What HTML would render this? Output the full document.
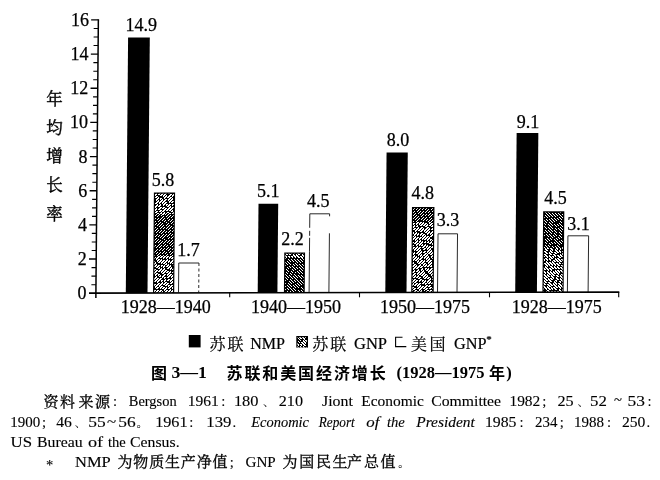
<!DOCTYPE html>
<html lang="zh"><head><meta charset="utf-8"><title>图 3—1 苏联和美国经济增长</title>
<style>html,body{margin:0;padding:0;background:#fff;overflow:hidden;}svg{display:block;will-change:transform;}text{fill:#000;}.n,.t{stroke:#000;stroke-width:.25px;}.c{stroke:#000;stroke-width:.22px;}.s,.i,.p{stroke:#000;stroke-width:.12px;}.k{font-family:"Liberation Serif", "Noto Serif CJK SC", serif;font-size:15px;stroke:#000;stroke-width:.32px;}.n{font-family:"Liberation Serif", "Noto Serif CJK SC", serif;font-size:18px;}.t{font-family:"Liberation Serif", "Noto Serif CJK SC", serif;font-size:18px;}.c{font-family:"Liberation Serif", "Noto Serif CJK SC", serif;font-size:16px;}.s{font-family:"Liberation Serif", "Noto Serif CJK SC", serif;font-size:14.6px;}.i{font-family:"Liberation Serif", "Noto Serif CJK SC", serif;font-size:14.6px;font-style:italic;}.p{font-family:"Liberation Serif", "Noto Serif CJK SC", serif;font-size:10.5px;}.cap{font-family:"Liberation Sans", "Noto Sans CJK SC", sans-serif;font-size:16px;font-weight:bold;}.capn{font-family:"Liberation Serif", "Noto Serif CJK SC", serif;font-size:16.5px;font-weight:bold;}</style></head><body>
<svg width="660" height="480" viewBox="0 0 660 480">
<rect width="660" height="480" fill="#fff"/>
<g transform="matrix(1 0 -0.0090 1 2.637 0)">
<g stroke="#000" fill="none">
<line x1="95.9" y1="19.3" x2="95.9" y2="298" stroke-width="1.5"/>
<line x1="91.3" y1="284.7" x2="95.9" y2="284.7" stroke-width="1.15"/>
<line x1="91.3" y1="276.1" x2="95.9" y2="276.1" stroke-width="1.15"/>
<line x1="91.3" y1="267.6" x2="95.9" y2="267.6" stroke-width="1.15"/>
<line x1="88.7" y1="259.0" x2="95.9" y2="259.0" stroke-width="1.35"/>
<line x1="91.3" y1="250.5" x2="95.9" y2="250.5" stroke-width="1.15"/>
<line x1="91.3" y1="242.0" x2="95.9" y2="242.0" stroke-width="1.15"/>
<line x1="91.3" y1="233.4" x2="95.9" y2="233.4" stroke-width="1.15"/>
<line x1="88.7" y1="224.9" x2="95.9" y2="224.9" stroke-width="1.35"/>
<line x1="91.3" y1="216.3" x2="95.9" y2="216.3" stroke-width="1.15"/>
<line x1="91.3" y1="207.8" x2="95.9" y2="207.8" stroke-width="1.15"/>
<line x1="91.3" y1="199.3" x2="95.9" y2="199.3" stroke-width="1.15"/>
<line x1="88.7" y1="190.7" x2="95.9" y2="190.7" stroke-width="1.35"/>
<line x1="91.3" y1="182.2" x2="95.9" y2="182.2" stroke-width="1.15"/>
<line x1="91.3" y1="173.6" x2="95.9" y2="173.6" stroke-width="1.15"/>
<line x1="91.3" y1="165.1" x2="95.9" y2="165.1" stroke-width="1.15"/>
<line x1="88.7" y1="156.6" x2="95.9" y2="156.6" stroke-width="1.35"/>
<line x1="91.3" y1="148.0" x2="95.9" y2="148.0" stroke-width="1.15"/>
<line x1="91.3" y1="139.5" x2="95.9" y2="139.5" stroke-width="1.15"/>
<line x1="91.3" y1="130.9" x2="95.9" y2="130.9" stroke-width="1.15"/>
<line x1="88.7" y1="122.4" x2="95.9" y2="122.4" stroke-width="1.35"/>
<line x1="91.3" y1="113.9" x2="95.9" y2="113.9" stroke-width="1.15"/>
<line x1="91.3" y1="105.3" x2="95.9" y2="105.3" stroke-width="1.15"/>
<line x1="91.3" y1="96.8" x2="95.9" y2="96.8" stroke-width="1.15"/>
<line x1="88.7" y1="88.2" x2="95.9" y2="88.2" stroke-width="1.35"/>
<line x1="91.3" y1="79.7" x2="95.9" y2="79.7" stroke-width="1.15"/>
<line x1="91.3" y1="71.2" x2="95.9" y2="71.2" stroke-width="1.15"/>
<line x1="91.3" y1="62.6" x2="95.9" y2="62.6" stroke-width="1.15"/>
<line x1="88.7" y1="54.1" x2="95.9" y2="54.1" stroke-width="1.35"/>
<line x1="91.3" y1="45.5" x2="95.9" y2="45.5" stroke-width="1.15"/>
<line x1="91.3" y1="37.0" x2="95.9" y2="37.0" stroke-width="1.15"/>
<line x1="91.3" y1="28.5" x2="95.9" y2="28.5" stroke-width="1.15"/>
<line x1="88.7" y1="19.9" x2="95.9" y2="19.9" stroke-width="1.35"/>
</g>
<rect x="125.8" y="37.5" width="21.7" height="255.5" fill="#000"/>
<clipPath id="cp1"><rect x="154.2" y="193.7" width="18.8" height="99.3"/></clipPath><rect x="153.0" y="192.5" width="21.2" height="100.5" fill="#000"/><g clip-path="url(#cp1)" stroke="#fff" stroke-width="1.15" fill="none" shape-rendering="crispEdges"><path d="M49.5,294.0 l102.5,-102.5" stroke-dasharray="3.5 1.2 4.9 1.1 4.4 1.4 2.3 1.6 2.2 1.5 2.3 1.1 3.9 2.0 2.6 1.3 4.8 2.1 4.6 1.5 6.4 1.1 5.9 1.3 2.6 1.1 3.4 2.0 2.8 1.7 4.9 1.4 4.5 1.1 2.3 1.2 5.1 1.5 3.4 1.7 4.0 1.4 5.6 1.8 3.1 1.7 4.4 2.1 5.3 1.3 6.4 1.1 3.9 1.9 2.7 1.6 2.2 1.8"/><path d="M52.5,294.0 l102.5,-102.5" stroke-dasharray="5.4 1.7 5.9 1.4 5.1 1.7 4.6 1.5 5.8 2.1 4.1 1.8 2.3 1.8 4.9 2.2 5.7 1.3 3.7 1.8 2.1 1.6 2.8 1.1 2.3 1.9 2.6 1.3 3.8 2.0 2.4 1.5 4.5 2.1 5.7 2.0 3.3 1.5 3.6 2.1 6.3 1.2 2.8 1.3 3.1 1.6 4.7 1.3 2.0 1.5 3.7 1.7 6.3 1.8 4.3 1.7"/><path d="M55.5,294.0 l102.5,-102.5" stroke-dasharray="5.0 1.1 6.0 1.9 5.9 2.0 3.8 1.5 2.5 1.8 2.3 1.1 2.9 1.2 3.5 1.1 2.0 1.2 2.5 1.4 2.1 2.0 4.8 1.2 3.1 1.4 3.6 1.1 5.8 2.2 4.1 1.6 2.4 1.1 3.5 1.3 5.7 1.2 2.1 2.1 4.4 1.2 4.4 1.0 4.4 2.2 5.9 1.8 3.2 1.4 2.8 1.9 4.4 1.9 3.5 1.3 5.7 2.2"/><path d="M58.5,294.0 l102.5,-102.5" stroke-dasharray="5.8 2.0 5.7 1.9 3.0 1.6 3.6 1.0 2.1 1.3 3.2 1.8 6.3 1.5 6.2 2.2 6.3 1.4 3.0 1.3 2.9 1.2 4.8 2.1 5.8 1.6 4.9 2.0 2.4 1.8 6.1 1.9 5.4 1.6 2.8 1.9 3.5 2.0 6.4 1.5 3.8 2.1 5.3 1.2 2.6 1.2 6.1 2.0 2.7 2.0 6.4 1.8"/><path d="M61.5,294.0 l102.5,-102.5" stroke-dasharray="3.6 1.7 2.6 1.0 6.4 1.8 4.4 2.1 4.0 2.0 5.7 1.3 3.1 1.4 3.1 1.7 3.2 1.5 2.6 2.1 3.6 1.5 4.6 2.1 3.9 2.1 4.3 1.6 4.4 1.0 4.0 1.2 2.0 2.0 2.8 1.6 5.3 1.7 3.5 1.6 4.5 1.9 2.5 1.7 3.1 1.3 5.5 1.6 4.5 1.9 6.1 1.5 4.8 1.6 4.3 1.8"/><path d="M64.5,294.0 l102.5,-102.5" stroke-dasharray="4.0 1.6 4.2 2.1 5.1 2.1 6.2 1.3 4.5 2.1 5.8 1.2 2.5 1.5 2.3 1.3 2.3 1.8 5.5 2.1 2.7 1.9 5.0 1.2 6.0 2.2 3.0 2.1 3.8 1.6 6.5 2.0 2.7 1.5 4.3 1.4 2.9 1.4 5.2 1.0 4.5 1.5 2.1 1.4 4.8 1.6 2.3 2.2 5.5 2.2 2.5 1.3 2.2 1.9 3.2 1.2"/><path d="M67.5,294.0 l102.5,-102.5" stroke-dasharray="3.9 2.1 5.7 1.3 2.7 2.1 4.6 1.8 2.4 1.1 5.1 1.5 2.3 2.1 4.9 2.0 2.4 2.0 2.3 2.0 4.0 1.4 4.5 2.1 3.2 1.2 4.4 1.3 2.5 1.2 2.2 1.2 3.4 1.4 5.4 1.3 4.3 1.2 3.6 1.0 3.1 1.0 5.3 1.7 2.9 1.6 6.2 1.1 5.7 1.5 4.2 2.0 3.8 1.6 5.1 2.2 3.5 2.0"/><path d="M70.5,294.0 l102.5,-102.5" stroke-dasharray="5.2 1.8 3.8 1.4 2.2 1.2 2.3 1.9 3.2 1.2 2.4 2.0 5.9 1.8 3.3 1.3 3.3 1.6 2.7 1.5 3.2 2.2 6.4 1.7 3.1 2.2 3.4 1.4 2.0 1.5 4.1 1.6 2.9 1.6 2.0 1.3 2.4 1.5 2.2 1.0 3.4 1.3 4.6 1.6 5.4 1.8 5.2 2.1 3.8 1.4 6.4 1.2 5.3 1.8 2.2 2.0 6.0 1.8"/><path d="M73.5,294.0 l102.5,-102.5" stroke-dasharray="5.3 2.0 2.6 1.6 4.3 2.0 5.6 2.0 4.6 2.1 5.1 1.8 3.0 1.0 2.6 1.4 2.5 2.0 4.5 1.8 4.8 1.8 4.2 1.0 5.6 1.9 4.3 1.6 5.0 1.1 5.3 1.3 2.3 1.3 5.3 1.2 5.3 2.2 4.2 1.5 4.2 1.8 5.5 1.7 4.9 1.1 2.7 1.3 5.3 1.4 4.6 1.0"/><path d="M76.5,294.0 l102.5,-102.5" stroke-dasharray="2.3 1.3 5.0 1.8 5.0 1.3 4.3 1.6 4.1 1.1 6.0 1.2 6.4 2.1 2.1 1.6 5.7 2.2 4.0 1.3 2.9 2.1 2.9 1.7 2.6 1.6 6.3 1.2 5.7 1.6 6.0 1.8 3.0 2.1 4.2 1.0 2.0 1.6 4.0 1.4 2.6 1.4 3.4 2.0 2.0 1.9 5.8 1.1 6.2 1.9 6.1 1.3 3.7 1.5"/><path d="M79.5,294.0 l102.5,-102.5" stroke-dasharray="6.5 1.7 3.6 1.5 3.2 1.1 2.5 2.0 3.3 2.1 3.1 1.3 4.3 1.2 3.7 2.1 6.0 2.0 4.8 2.1 6.2 1.7 5.2 1.1 5.3 1.5 5.4 1.8 3.3 1.1 6.2 1.2 4.1 1.4 3.3 1.9 6.4 1.3 5.0 1.4 4.5 1.5 2.8 1.2 2.9 2.1 4.2 1.3 6.1 2.2 4.0 1.2"/><path d="M82.5,294.0 l102.5,-102.5" stroke-dasharray="2.9 1.1 3.5 1.1 3.1 1.3 4.6 2.1 5.4 1.5 3.9 1.6 3.7 1.4 2.3 1.3 6.4 1.2 4.3 1.8 5.9 1.3 3.2 1.3 3.8 1.5 6.3 2.0 5.9 1.0 2.1 1.9 6.0 1.6 4.6 1.0 3.8 2.1 5.7 2.0 6.4 1.3 2.5 1.2 4.4 1.8 6.2 1.9 4.9 1.9 4.1 1.7"/><path d="M85.5,294.0 l102.5,-102.5" stroke-dasharray="2.2 1.9 3.0 2.1 4.9 1.4 2.6 1.3 4.9 1.8 2.5 1.1 4.4 1.7 3.7 1.3 4.7 1.0 3.4 1.6 6.3 1.8 6.0 1.6 3.1 1.3 6.3 1.8 3.4 1.0 4.2 1.8 3.9 1.3 5.0 2.1 3.0 1.0 3.5 1.5 5.1 1.2 5.6 1.9 4.3 1.2 6.4 1.4 5.7 1.3 3.0 1.9 3.3 2.1"/><path d="M88.5,294.0 l102.5,-102.5" stroke-dasharray="4.2 1.2 3.0 1.5 5.0 2.1 2.7 1.5 3.0 2.2 2.6 1.1 2.3 1.5 6.0 2.1 5.3 2.2 6.2 1.4 2.8 2.1 5.4 1.0 5.0 1.5 3.7 1.4 2.8 1.0 3.3 1.4 6.3 1.1 6.3 1.2 3.6 2.0 5.7 1.5 2.2 1.6 3.7 2.1 2.9 1.4 6.0 1.0 3.8 2.0 5.5 1.0 2.2 1.1 6.1 1.3"/><path d="M91.5,294.0 l102.5,-102.5" stroke-dasharray="5.4 2.1 3.5 1.3 6.3 1.7 3.2 1.9 3.4 1.3 2.0 1.9 6.1 1.8 6.2 1.0 3.1 1.6 6.3 2.1 3.7 1.3 3.9 1.6 6.2 1.2 5.6 1.9 5.7 1.9 4.7 1.4 3.4 1.4 5.5 1.1 2.9 1.9 3.1 1.1 2.2 1.7 3.5 2.2 6.0 2.2 3.2 1.1 2.4 1.6 5.2 1.5"/><path d="M94.5,294.0 l102.5,-102.5" stroke-dasharray="3.1 1.5 4.8 1.8 5.4 2.0 5.0 1.1 5.8 1.4 4.6 1.4 5.3 1.2 3.1 1.3 2.7 2.1 4.6 1.4 3.8 2.2 4.3 1.3 5.6 1.8 6.5 1.1 4.1 2.0 5.8 2.1 2.2 1.4 2.5 1.2 6.4 1.7 6.2 1.4 5.9 1.5 3.2 1.9 6.3 1.1 4.7 1.7 3.0 1.4 2.6 1.2"/><path d="M97.5,294.0 l102.5,-102.5" stroke-dasharray="3.1 1.7 4.9 1.2 2.1 1.4 5.1 1.2 3.4 1.2 5.6 1.7 2.3 1.1 3.8 1.7 4.9 1.1 2.7 1.8 3.8 1.3 3.4 2.1 3.4 1.7 3.6 1.5 5.9 2.2 3.6 1.2 5.3 1.2 2.0 2.1 3.9 2.0 3.8 2.1 4.1 1.2 2.1 1.7 4.9 2.1 2.4 1.7 3.7 1.6 2.7 1.3 4.3 2.1 2.5 1.6 5.6 2.2"/><path d="M100.5,294.0 l102.5,-102.5" stroke-dasharray="2.9 1.2 6.2 2.2 4.2 1.1 6.2 1.5 6.1 1.7 5.7 1.2 5.5 1.3 3.8 2.0 5.7 1.2 3.0 1.5 4.3 1.5 2.6 1.3 5.3 2.1 2.2 1.7 5.4 1.0 5.8 1.1 4.7 1.7 4.8 1.4 3.9 1.7 3.9 1.8 4.0 1.5 2.1 1.7 4.2 1.3 5.4 1.9 4.1 1.2 4.1 1.1"/><path d="M103.5,294.0 l102.5,-102.5" stroke-dasharray="2.6 1.5 2.4 1.5 4.3 1.0 4.9 1.1 5.3 1.9 4.3 1.1 4.3 1.5 6.3 1.2 5.9 2.2 5.3 2.0 2.9 2.2 4.2 2.1 6.1 1.2 5.5 2.1 2.3 1.4 5.4 1.2 6.0 1.3 5.7 1.2 4.3 2.1 2.9 1.3 4.3 1.4 2.2 1.2 2.7 2.1 5.1 2.1 2.8 1.9 2.5 1.6 4.9 1.4"/><path d="M106.5,294.0 l102.5,-102.5" stroke-dasharray="5.9 1.7 4.6 2.1 2.5 2.2 4.8 1.5 5.6 1.3 6.5 1.7 3.6 1.9 4.0 1.2 5.3 1.1 5.7 1.3 4.9 2.2 4.6 1.8 3.4 1.0 2.2 1.2 4.8 1.5 4.3 2.1 2.6 1.3 4.9 1.0 2.0 1.4 2.5 1.4 3.0 1.7 4.7 1.2 4.8 1.6 2.6 2.1 3.1 1.2 2.4 1.8 5.9 1.9 3.8 1.3"/><path d="M109.5,294.0 l102.5,-102.5" stroke-dasharray="2.1 1.8 4.5 1.4 4.9 1.5 6.2 1.9 3.1 2.1 2.2 1.6 3.8 1.3 2.3 1.9 2.1 1.7 6.2 1.2 2.9 1.7 4.3 1.8 5.7 1.2 3.4 1.4 2.2 2.1 5.5 1.9 2.0 2.0 5.4 1.6 5.3 1.5 3.0 1.1 3.0 1.0 3.5 1.9 5.1 2.0 5.2 1.3 4.5 1.5 5.5 1.6 3.2 1.8 6.3 1.3"/><path d="M112.5,294.0 l102.5,-102.5" stroke-dasharray="6.0 1.0 3.2 1.3 5.3 2.1 5.4 1.4 6.0 1.4 3.1 2.1 4.8 1.8 5.0 2.2 4.1 2.0 5.1 2.0 4.0 1.9 4.6 1.4 3.0 1.7 2.4 2.1 2.7 1.0 2.5 2.1 3.6 1.2 2.1 1.0 5.1 1.8 5.1 1.9 2.3 1.7 3.6 2.0 5.7 2.1 2.3 2.0 6.1 2.1 2.5 1.2 2.5 1.0 5.8 2.0"/><path d="M115.5,294.0 l102.5,-102.5" stroke-dasharray="4.9 2.0 4.8 1.3 2.4 1.1 5.4 1.2 3.4 1.5 2.1 1.3 3.3 1.9 3.7 1.4 6.3 1.6 5.8 1.7 2.1 1.5 4.0 1.9 3.6 1.8 4.4 1.3 5.9 1.1 5.7 1.2 2.0 1.2 5.4 2.2 2.0 1.6 4.2 2.0 2.8 1.6 3.6 2.0 3.2 2.1 3.3 1.3 5.1 1.6 2.5 1.8 2.4 1.9 5.1 1.9"/><path d="M118.5,294.0 l102.5,-102.5" stroke-dasharray="4.8 1.4 3.8 1.5 6.0 1.1 6.0 1.0 2.9 1.3 6.1 1.6 3.7 2.1 3.1 1.6 4.4 1.9 5.4 1.8 3.6 1.4 2.7 2.0 5.0 1.9 2.8 1.5 5.5 1.7 2.6 1.6 6.0 1.3 2.9 1.4 5.2 2.0 2.7 1.2 3.1 1.4 4.3 1.2 3.5 1.2 6.4 1.9 2.5 2.2 2.5 1.5 6.4 2.0"/><path d="M121.5,294.0 l102.5,-102.5" stroke-dasharray="5.3 1.5 2.9 1.8 2.5 1.2 3.7 1.0 3.8 1.9 5.1 1.6 4.8 1.6 2.6 1.7 3.8 1.9 6.1 1.5 4.6 1.9 3.9 1.3 5.2 2.1 5.5 1.8 5.8 1.8 4.9 1.5 3.4 1.8 2.4 1.5 5.5 1.9 4.8 1.3 3.9 1.5 4.8 1.5 5.0 2.1 2.8 1.8 5.5 1.5 4.2 2.2"/><path d="M124.5,294.0 l102.5,-102.5" stroke-dasharray="2.2 1.7 2.7 1.9 6.2 1.6 2.5 1.7 4.4 1.9 4.3 1.8 5.7 1.6 3.8 2.1 2.9 1.8 3.8 1.9 2.6 2.2 3.6 1.1 3.2 1.5 2.1 1.5 3.9 1.8 3.6 1.3 3.0 1.9 6.2 1.6 3.0 2.0 3.8 1.3 2.6 1.9 5.6 1.8 4.1 1.7 3.0 2.2 3.6 1.8 5.7 2.0 4.1 1.4 4.5 1.2"/><path d="M127.5,294.0 l102.5,-102.5" stroke-dasharray="5.8 1.4 5.8 1.3 3.7 1.3 3.9 1.2 2.0 1.9 3.3 1.3 3.4 1.6 3.9 1.8 5.0 1.4 6.2 2.0 2.3 2.0 6.1 1.9 2.6 2.0 4.8 1.0 2.1 2.1 5.0 1.3 2.5 1.2 3.1 1.9 3.6 1.2 6.1 2.0 2.8 2.1 4.7 1.9 5.0 2.1 5.5 2.0 2.9 1.8 4.4 1.9 4.0 2.1"/><path d="M130.5,294.0 l102.5,-102.5" stroke-dasharray="4.5 1.3 3.1 1.2 4.2 1.1 4.1 1.2 4.2 1.6 4.4 2.0 2.0 2.0 4.1 1.7 5.0 2.0 3.7 1.5 6.3 1.1 4.9 1.8 2.1 1.7 5.1 2.1 3.5 2.2 4.3 1.6 6.0 1.0 5.2 1.8 3.5 2.0 3.6 1.6 4.4 1.9 2.9 1.5 3.9 1.7 5.7 1.4 5.7 1.5 4.3 1.3 4.3 2.2"/><path d="M133.5,294.0 l102.5,-102.5" stroke-dasharray="4.9 2.0 3.5 1.4 3.3 1.7 4.9 1.9 2.2 1.9 6.0 1.7 2.2 1.4 2.0 1.2 6.1 1.7 5.0 1.9 6.1 1.7 4.8 1.8 5.1 1.7 5.1 1.3 5.0 1.5 5.4 1.1 2.8 1.0 5.5 2.1 5.0 1.4 5.7 1.9 4.5 1.3 3.4 1.5 3.4 1.5 4.9 2.1 2.2 1.7 2.2 1.1 5.6 1.7"/><path d="M136.5,294.0 l102.5,-102.5" stroke-dasharray="6.1 1.5 2.1 1.5 4.7 2.1 6.4 1.6 3.9 1.1 4.9 1.3 2.7 1.0 2.0 1.8 2.5 2.2 2.4 2.0 2.6 1.0 5.2 1.3 5.3 1.2 2.2 1.9 5.2 2.0 5.3 1.1 4.8 1.9 4.1 2.1 3.1 2.2 5.2 1.0 2.1 1.8 5.7 1.1 3.4 1.9 2.7 2.0 4.2 1.1 3.7 1.7 4.0 1.8 2.7 2.0 3.6 1.8"/><path d="M139.5,294.0 l102.5,-102.5" stroke-dasharray="4.8 1.5 3.7 1.9 6.3 1.9 4.6 1.4 2.3 2.2 5.2 2.0 3.5 1.7 6.4 2.0 4.7 1.4 3.9 2.1 3.7 1.8 4.7 2.1 5.6 1.3 2.0 1.3 3.9 1.7 5.7 2.1 2.2 2.0 5.7 2.0 4.6 1.3 5.8 2.0 5.1 2.1 3.6 1.1 4.5 2.0 2.9 1.9 6.2 1.3"/><path d="M142.5,294.0 l102.5,-102.5" stroke-dasharray="4.7 1.8 4.1 1.2 3.1 1.9 5.6 1.6 2.4 2.0 5.5 1.3 4.6 2.1 6.0 1.6 4.1 1.7 2.9 1.2 2.8 1.8 3.6 1.7 3.8 1.6 2.7 1.1 6.5 1.4 2.5 1.8 5.5 1.2 4.7 1.4 4.3 1.0 2.2 2.2 5.9 1.6 4.6 1.3 5.5 1.5 6.3 1.9 5.7 2.2 3.1 1.0 2.9 1.2"/><path d="M145.5,294.0 l102.5,-102.5" stroke-dasharray="2.4 1.1 4.5 2.0 4.1 2.1 6.1 1.1 4.7 1.5 2.5 2.2 3.2 1.7 4.9 2.1 5.0 1.5 4.0 1.2 6.3 2.2 3.0 1.0 3.2 1.4 6.1 2.1 5.8 1.1 5.5 1.9 4.9 2.2 2.3 1.2 5.4 2.1 5.0 1.4 4.7 1.9 2.5 1.4 3.2 1.1 4.2 1.2 3.1 1.2 5.0 1.0 5.2 1.2"/><path d="M148.5,294.0 l102.5,-102.5" stroke-dasharray="2.2 2.1 3.0 2.1 5.9 2.1 2.6 1.5 2.4 2.1 5.8 1.8 4.0 1.4 5.7 1.6 4.8 1.2 3.0 1.1 5.2 1.7 2.7 2.0 3.2 1.5 2.7 1.3 5.8 1.4 2.8 1.6 3.4 2.1 2.5 2.2 2.3 2.1 5.0 1.3 4.1 1.3 3.2 1.2 3.6 2.2 6.5 2.1 2.4 1.3 6.0 1.1 5.3 1.4 6.4 1.0"/><path d="M151.5,294.0 l102.5,-102.5" stroke-dasharray="5.6 1.4 2.6 1.0 5.7 1.6 2.8 1.5 6.1 1.3 4.6 1.2 2.8 1.9 5.2 1.2 2.4 1.1 4.7 1.6 3.2 1.2 4.8 1.8 5.7 1.7 2.9 1.1 5.3 1.5 5.2 1.1 5.6 1.4 5.8 2.0 4.2 1.0 6.1 1.6 5.9 1.3 2.8 2.0 3.7 1.2 3.7 1.7 2.0 1.6 4.0 1.6 2.5 1.9"/><path d="M154.5,294.0 l102.5,-102.5" stroke-dasharray="5.7 2.0 3.4 1.9 3.7 1.9 2.3 2.0 6.3 1.6 4.3 1.6 4.4 1.0 6.4 1.3 2.8 1.1 3.1 2.0 2.1 1.1 5.1 1.2 2.1 1.7 4.6 1.6 5.2 1.1 5.9 1.9 2.2 1.1 4.2 1.6 3.3 1.1 3.8 1.2 4.7 2.0 2.7 1.7 5.4 1.2 5.7 2.1 3.7 1.5 5.8 1.6 3.8 2.1"/><path d="M157.5,294.0 l102.5,-102.5" stroke-dasharray="5.5 1.4 3.1 1.4 4.0 2.2 5.6 2.1 5.7 2.0 2.2 1.6 6.3 2.1 3.1 1.5 4.8 1.4 4.4 1.1 3.9 1.6 2.1 1.2 6.4 1.9 6.2 1.8 5.6 2.1 6.0 1.0 4.9 1.3 5.1 1.3 4.4 2.1 4.8 1.3 4.3 1.5 6.3 1.3 3.4 1.8 2.5 1.7 6.3 1.6"/><path d="M160.5,294.0 l102.5,-102.5" stroke-dasharray="3.2 1.6 4.4 1.2 2.6 1.2 3.3 1.5 3.3 1.3 2.4 1.7 5.8 1.7 4.6 1.8 2.9 1.9 4.1 1.7 4.8 1.6 3.4 1.3 3.0 1.6 3.7 1.7 2.1 1.4 5.9 1.3 4.5 1.6 3.3 2.2 3.3 1.9 2.7 1.1 5.9 1.5 2.3 1.5 4.0 1.9 2.5 1.3 6.3 1.9 2.7 1.4 3.6 1.8 4.8 2.0 5.7 1.6"/><path d="M163.5,294.0 l102.5,-102.5" stroke-dasharray="5.3 1.9 5.4 1.6 5.5 1.9 6.1 1.2 5.9 1.0 5.4 1.7 4.2 2.2 4.6 1.5 5.5 2.0 4.7 1.5 4.0 1.5 5.3 1.4 3.8 1.7 3.7 1.4 5.5 2.0 4.2 1.5 2.8 1.4 2.7 1.7 4.6 1.1 6.1 1.4 5.8 2.0 6.3 1.2 3.9 2.1 2.0 1.1 4.5 1.6"/><path d="M166.5,294.0 l102.5,-102.5" stroke-dasharray="6.1 1.9 4.4 2.2 4.3 1.6 5.1 1.5 3.6 1.7 3.6 2.1 5.0 1.6 2.4 1.4 3.8 1.7 4.6 2.1 6.3 1.6 4.0 1.7 6.5 1.4 4.4 2.0 2.8 1.4 6.4 2.0 4.3 1.1 6.0 1.8 5.7 2.2 6.0 1.5 2.7 1.3 4.3 1.6 2.8 1.2 4.8 1.7 3.6 2.2"/><path d="M169.5,294.0 l102.5,-102.5" stroke-dasharray="4.9 1.1 3.9 1.9 3.4 1.8 2.0 1.4 5.8 1.7 5.0 1.2 4.2 1.7 3.2 1.8 4.4 2.2 4.6 1.5 2.5 1.2 5.4 1.1 2.5 1.2 4.4 2.0 4.8 2.0 2.3 1.0 5.5 1.4 5.2 1.4 2.8 1.3 2.4 2.1 4.6 1.4 4.0 1.5 2.2 2.1 4.6 2.2 4.0 1.7 3.1 1.1 6.2 2.0 3.4 2.1"/><path d="M172.5,294.0 l102.5,-102.5" stroke-dasharray="5.7 1.4 4.7 2.2 4.2 2.1 3.1 1.5 5.2 1.3 3.4 2.1 4.2 2.0 3.1 1.2 3.6 1.2 6.4 1.3 4.5 1.1 4.4 1.5 3.8 1.1 2.6 2.0 3.6 1.3 2.9 1.3 3.1 1.0 5.0 1.4 2.7 1.8 2.4 1.3 5.8 1.2 4.0 2.0 5.6 1.2 3.6 1.9 3.7 2.2 2.9 2.1 4.3 1.3 4.0 1.2"/><path d="M175.5,294.0 l102.5,-102.5" stroke-dasharray="5.2 1.3 6.0 1.7 3.7 1.3 4.7 1.3 5.9 1.1 4.3 1.7 3.2 1.9 3.7 1.8 4.6 1.4 3.8 1.1 2.8 2.0 3.4 1.8 2.5 1.7 3.6 1.6 3.3 1.1 3.4 1.3 2.6 1.9 3.3 1.5 6.1 1.9 6.0 2.0 2.6 1.3 2.1 1.8 5.0 1.4 3.9 1.8 5.1 1.3 5.8 1.4 4.8 1.2 2.5 2.1"/></g>
<path d="M178.5,292.4 V263.0 H198.7" fill="none" stroke="#111" stroke-width="0.9"/>
<path d="M198.7,263.0 V292.4" fill="none" stroke="#111" stroke-width="0.9" stroke-dasharray="3 2.5"/>
<rect x="257.7" y="203.7" width="19.7" height="89.3" fill="#000"/>
<clipPath id="cp2"><rect x="285.1" y="253.7" width="18.4" height="39.3"/></clipPath><rect x="283.9" y="252.5" width="20.8" height="40.5" fill="#000"/><g clip-path="url(#cp2)" stroke="#fff" stroke-width="1.12" fill="none" shape-rendering="crispEdges"><path d="M280.9,294.0 l-42.5,-42.5" stroke-dasharray="5.3 1.9 2.2 1.0 2.7 1.2 3.4 1.5 2.2 1.4 4.9 1.2 5.8 1.7 5.2 1.3 4.0 1.8 3.6 1.0 5.8 1.9 3.3 1.1 5.8 1.7"/><path d="M283.9,294.0 l-42.5,-42.5" stroke-dasharray="2.2 1.3 2.5 1.9 2.9 2.1 5.4 1.1 5.1 1.5 5.4 2.0 3.3 1.1 6.3 1.5 6.2 1.8 5.3 2.0 4.8 1.5 2.2 1.8"/><path d="M286.9,294.0 l-42.5,-42.5" stroke-dasharray="3.9 1.6 6.2 1.2 5.4 1.1 5.2 2.0 3.2 1.7 6.4 1.8 4.4 1.3 2.3 1.4 3.9 1.2 3.4 1.2 5.2 1.8 3.1 1.3"/><path d="M289.9,294.0 l-42.5,-42.5" stroke-dasharray="4.3 1.5 6.2 1.4 3.3 2.1 2.6 1.7 3.5 2.0 4.5 1.9 2.8 1.8 4.7 1.6 5.4 2.0 2.5 1.3 3.6 1.2 2.3 1.3 2.9 1.8"/><path d="M292.9,294.0 l-42.5,-42.5" stroke-dasharray="4.0 1.1 3.5 1.6 3.6 1.2 2.3 1.0 6.5 1.9 2.4 1.9 6.4 1.7 2.5 1.6 4.0 1.2 4.4 1.0 6.1 1.8 4.8 2.1"/><path d="M295.9,294.0 l-42.5,-42.5" stroke-dasharray="4.9 1.3 3.1 1.2 2.1 1.9 5.8 1.4 2.8 1.8 5.8 2.1 2.8 1.9 5.7 1.9 3.5 1.2 5.7 1.4 3.7 1.7 3.7 2.0"/><path d="M298.9,294.0 l-42.5,-42.5" stroke-dasharray="3.1 1.0 4.6 1.8 5.7 1.8 6.1 2.1 4.2 1.6 2.7 1.4 4.6 1.1 5.1 1.2 4.0 2.2 2.4 1.0 4.0 1.2 5.3 1.0"/><path d="M301.9,294.0 l-42.5,-42.5" stroke-dasharray="5.8 2.0 5.5 1.5 3.3 1.8 4.3 1.5 3.5 1.5 5.0 2.0 6.1 1.2 3.3 1.5 4.5 1.4 2.9 1.1 3.5 1.6 6.4 2.1"/><path d="M304.9,294.0 l-42.5,-42.5" stroke-dasharray="5.9 2.2 6.3 1.7 5.7 1.1 5.0 1.7 3.3 1.7 6.3 1.6 4.9 1.4 3.5 2.1 2.1 1.2 5.1 1.5 2.4 1.8"/><path d="M307.9,294.0 l-42.5,-42.5" stroke-dasharray="3.7 1.7 3.9 1.6 4.5 1.5 2.5 1.2 6.0 1.7 2.5 2.0 3.1 1.1 4.4 1.3 4.2 1.7 3.0 1.7 2.5 1.6 4.6 1.1 3.8 1.1"/><path d="M310.9,294.0 l-42.5,-42.5" stroke-dasharray="4.0 2.0 4.5 1.9 5.4 1.1 6.5 1.9 2.5 2.0 3.8 1.2 6.3 1.7 5.5 1.2 5.5 1.1 3.1 1.4 2.1 1.7 3.0 1.4"/><path d="M313.9,294.0 l-42.5,-42.5" stroke-dasharray="5.2 1.5 6.0 1.7 5.9 1.7 6.1 2.0 2.8 1.9 3.5 1.9 5.1 2.0 2.6 1.4 5.3 2.1 5.2 1.1 4.7 1.1"/><path d="M316.9,294.0 l-42.5,-42.5" stroke-dasharray="4.5 2.0 2.5 2.1 5.0 1.3 2.9 1.5 5.8 1.7 2.5 1.0 2.5 2.0 2.8 1.7 3.3 1.8 3.7 1.2 5.9 1.6 5.1 2.0 6.3 1.0"/><path d="M319.9,294.0 l-42.5,-42.5" stroke-dasharray="3.5 1.2 4.3 2.0 5.6 1.0 2.8 2.0 5.1 1.5 4.1 1.2 5.8 1.5 5.9 1.7 2.3 1.4 3.0 2.1 4.7 1.1 2.8 1.4"/><path d="M322.9,294.0 l-42.5,-42.5" stroke-dasharray="4.1 1.7 3.7 1.4 2.0 1.7 3.5 1.0 4.1 2.2 2.2 1.2 5.0 1.3 3.2 1.6 3.2 1.7 4.4 2.1 6.5 1.0 4.5 1.9 5.9 1.9"/><path d="M325.9,294.0 l-42.5,-42.5" stroke-dasharray="4.8 1.8 3.6 1.3 5.6 2.0 6.2 1.8 3.4 1.9 5.3 1.6 4.9 1.4 4.5 1.5 2.3 1.4 3.5 2.2 4.2 1.4 3.1 1.3"/><path d="M328.9,294.0 l-42.5,-42.5" stroke-dasharray="3.6 1.2 2.0 2.0 4.0 1.5 4.6 1.4 2.8 1.1 3.4 1.4 5.3 1.7 6.2 1.4 6.1 1.7 2.4 1.2 4.6 2.2 3.6 1.9 3.9 2.0"/><path d="M331.9,294.0 l-42.5,-42.5" stroke-dasharray="2.3 1.6 6.0 1.3 3.2 1.0 2.7 1.3 5.2 1.3 3.8 1.2 4.7 2.0 4.9 1.2 5.3 2.2 4.7 1.1 5.6 2.1 3.5 1.2"/><path d="M334.9,294.0 l-42.5,-42.5" stroke-dasharray="2.8 1.6 5.9 1.8 6.2 1.3 3.5 1.9 4.9 1.5 5.1 1.4 2.3 1.5 2.2 1.8 3.5 1.6 4.7 1.3 4.1 1.0 6.2 1.7"/><path d="M337.9,294.0 l-42.5,-42.5" stroke-dasharray="6.4 1.1 4.8 1.9 3.5 1.1 2.7 1.2 5.5 1.1 5.7 1.5 4.4 1.7 4.5 1.8 4.7 1.4 5.3 1.3 5.2 1.9"/><path d="M340.9,294.0 l-42.5,-42.5" stroke-dasharray="5.5 1.4 5.5 2.2 4.0 1.3 4.4 2.1 2.6 1.0 4.1 1.8 5.5 1.4 6.5 1.3 5.4 1.1 2.1 1.2 2.3 1.6 4.5 1.2"/><path d="M343.9,294.0 l-42.5,-42.5" stroke-dasharray="6.2 1.4 2.7 1.2 5.3 2.1 2.7 1.0 5.5 1.3 6.4 1.6 4.9 1.4 5.6 1.6 3.5 2.1 2.5 1.9 2.3 1.8 3.8 2.0"/><path d="M346.9,294.0 l-42.5,-42.5" stroke-dasharray="2.3 1.7 3.8 2.1 6.3 1.8 3.0 1.3 3.2 1.5 3.0 1.2 5.4 1.8 3.3 2.2 3.0 1.7 2.7 2.0 5.9 1.3 5.4 2.0"/></g>
<path d="M309.1,292.4 V251.8 M328.9,233.3 V292.4" fill="none" stroke="#111" stroke-width="0.9"/>
<path d="M309.1,251.8 V213.8 H328.9 V216.3" fill="none" stroke="#111" stroke-width="0.9" stroke-dasharray="14 2 5 3 40 0"/>
<rect x="385.3" y="152.5" width="21.2" height="140.5" fill="#000"/>
<clipPath id="cp3"><rect x="412.4" y="208.2" width="20.1" height="84.8"/></clipPath><rect x="411.2" y="207.0" width="22.5" height="86.0" fill="#000"/><g clip-path="url(#cp3)" stroke="#fff" stroke-width="1.15" fill="none" shape-rendering="crispEdges"><path d="M322.2,294.0 l88.0,-88.0" stroke-dasharray="3.3 1.4 4.2 2.1 2.7 1.8 4.7 1.5 4.6 2.1 2.9 2.1 3.6 1.9 5.9 1.2 5.9 2.2 3.3 1.0 2.5 2.2 2.0 2.1 2.7 1.9 2.4 1.2 5.1 1.1 3.5 2.1 5.2 2.1 6.4 1.0 3.1 2.0 5.1 1.0 4.3 1.3 3.9 1.1 2.1 2.2 3.4 2.1"/><path d="M325.2,294.0 l88.0,-88.0" stroke-dasharray="2.5 1.6 2.6 1.5 2.8 1.8 2.7 1.9 4.3 1.1 3.6 1.6 6.1 1.4 3.0 2.2 6.0 1.9 3.2 1.2 3.2 1.1 2.2 1.6 3.8 1.7 3.6 1.0 5.1 1.8 4.4 1.7 5.1 2.2 5.9 1.9 3.8 1.4 3.9 2.2 3.7 1.5 3.8 1.2 6.5 1.0 4.7 2.1"/><path d="M328.2,294.0 l88.0,-88.0" stroke-dasharray="3.1 1.7 3.7 1.3 2.9 1.1 5.8 1.9 6.1 1.1 5.1 1.4 4.9 1.7 3.4 2.2 2.0 1.9 5.8 1.6 4.7 2.2 3.1 1.8 5.3 1.5 5.2 1.5 4.4 1.7 5.0 1.4 4.8 1.7 3.0 1.7 3.2 2.1 4.1 1.9 4.3 1.6 3.0 1.2 6.2 1.6"/><path d="M331.2,294.0 l88.0,-88.0" stroke-dasharray="4.4 1.6 5.7 1.3 2.8 2.0 4.1 1.8 5.7 2.1 5.9 1.1 3.7 2.0 5.7 1.1 2.7 1.3 2.5 1.4 5.6 1.6 4.0 1.1 3.8 2.2 5.1 1.5 4.2 2.0 5.4 1.2 5.1 1.4 4.3 1.3 3.7 1.4 3.7 1.0 2.9 1.7 2.3 1.2 5.2 1.3 3.5 1.3"/><path d="M334.2,294.0 l88.0,-88.0" stroke-dasharray="5.8 1.1 4.9 2.0 2.9 1.5 5.6 1.7 3.7 1.1 4.0 1.4 5.2 1.4 3.8 1.8 5.6 1.4 3.7 1.7 6.2 1.2 6.4 1.9 3.7 1.8 3.5 1.1 5.4 1.5 4.4 1.6 6.1 1.9 2.1 1.7 4.1 1.6 5.8 1.5 4.1 2.1 4.0 1.6"/><path d="M337.2,294.0 l88.0,-88.0" stroke-dasharray="4.3 2.0 5.0 1.9 3.8 1.0 5.1 1.7 5.5 1.9 2.5 1.3 2.3 2.0 2.5 1.1 5.4 1.7 2.2 1.8 5.2 1.6 2.2 1.8 3.9 1.7 6.5 2.0 5.9 1.2 3.5 1.6 2.0 2.2 3.2 1.3 3.4 1.3 5.9 1.7 4.3 1.5 2.2 1.4 5.9 2.0 5.9 1.3"/><path d="M340.2,294.0 l88.0,-88.0" stroke-dasharray="2.9 1.1 4.4 1.4 4.1 1.6 4.6 1.4 5.6 1.2 6.1 1.7 2.2 1.4 4.4 1.5 4.5 1.4 3.2 2.0 3.3 1.9 5.6 1.7 4.0 2.1 4.0 2.1 2.3 1.5 4.9 1.1 5.9 1.1 4.7 1.2 6.2 1.7 5.6 1.6 5.0 1.8 3.3 1.3 5.8 1.2"/><path d="M343.2,294.0 l88.0,-88.0" stroke-dasharray="6.1 1.2 2.5 1.1 5.5 2.1 3.9 1.8 3.2 2.1 5.1 1.2 2.3 1.8 2.2 2.0 3.3 1.3 4.6 1.4 4.5 1.2 6.1 1.4 5.8 1.2 5.6 2.2 3.8 1.0 3.7 1.8 3.0 1.7 2.4 1.6 5.3 1.5 5.1 1.1 5.7 1.1 6.2 2.2 6.2 1.6"/><path d="M346.2,294.0 l88.0,-88.0" stroke-dasharray="3.3 1.4 5.4 1.6 6.2 1.1 4.2 2.0 4.7 1.6 2.4 1.2 3.2 2.1 5.8 1.3 6.2 1.0 4.7 2.2 3.5 2.1 5.0 1.1 3.5 1.5 3.1 1.9 2.8 1.9 3.3 1.1 4.5 1.1 4.5 1.9 4.7 1.6 2.2 1.6 2.4 1.8 2.6 1.7 3.6 1.4 5.0 1.2"/><path d="M349.2,294.0 l88.0,-88.0" stroke-dasharray="2.8 2.1 3.5 2.0 5.9 1.6 2.7 1.1 6.0 1.1 4.2 1.6 2.5 1.6 2.7 1.6 4.3 1.4 2.9 1.5 2.9 1.2 3.1 2.0 4.3 2.1 2.1 2.1 4.2 1.9 4.6 1.8 3.0 1.9 2.7 1.3 2.1 1.5 4.3 1.4 6.0 1.1 4.6 1.3 4.7 1.9 5.2 1.1 3.1 1.7"/><path d="M352.2,294.0 l88.0,-88.0" stroke-dasharray="6.4 1.0 4.8 1.8 5.7 1.4 5.6 1.6 6.1 1.0 6.2 1.5 3.8 1.1 3.1 1.9 5.1 1.2 3.5 1.2 2.9 1.3 3.5 2.2 6.5 1.9 4.2 1.6 5.5 2.1 5.4 1.8 2.9 1.8 5.8 1.9 2.4 1.9 3.6 1.2 6.3 1.8 5.4 1.2"/><path d="M355.2,294.0 l88.0,-88.0" stroke-dasharray="5.7 2.1 6.1 1.9 5.7 2.0 4.7 1.5 5.7 1.9 5.9 1.4 6.3 1.6 6.3 1.1 6.4 1.9 3.1 2.0 3.0 1.2 4.1 1.3 4.2 2.1 5.1 1.9 3.8 1.9 5.6 1.8 6.2 2.0 3.8 1.1 4.9 2.0 3.5 1.7"/><path d="M358.2,294.0 l88.0,-88.0" stroke-dasharray="5.8 2.0 2.0 1.6 2.1 1.1 5.7 1.5 4.7 1.5 3.5 1.3 3.6 2.0 4.8 1.4 2.4 1.3 5.2 1.5 5.0 2.0 2.5 1.8 2.2 2.0 2.8 1.3 6.3 1.4 3.0 2.1 4.7 2.1 3.8 1.6 6.3 1.6 6.4 1.2 5.7 1.2 4.4 1.0 2.8 2.1 4.0 2.0"/><path d="M361.2,294.0 l88.0,-88.0" stroke-dasharray="3.1 1.4 2.5 1.7 5.9 1.6 3.7 2.1 6.0 1.8 2.3 1.7 4.0 2.1 3.6 1.8 4.8 1.5 4.3 1.8 6.1 1.6 3.6 2.2 2.3 2.0 5.1 1.7 4.0 1.9 6.0 1.9 5.4 1.0 3.5 1.2 6.3 2.1 2.7 1.7 4.6 1.1 3.8 1.9 4.9 1.3"/><path d="M364.2,294.0 l88.0,-88.0" stroke-dasharray="5.4 1.3 4.4 1.5 6.4 1.8 5.6 1.8 3.7 2.2 5.2 1.8 3.2 1.2 4.6 2.0 5.6 1.4 2.6 1.6 5.9 1.2 5.3 1.2 3.4 1.1 3.3 1.5 6.4 2.2 2.8 1.4 6.2 1.2 3.4 1.5 2.5 1.3 3.8 1.5 6.3 1.3 2.9 2.1 4.0 2.0"/><path d="M367.2,294.0 l88.0,-88.0" stroke-dasharray="4.9 1.9 3.4 1.2 5.4 1.6 4.5 1.8 5.4 1.3 3.6 2.1 4.4 1.3 4.8 1.3 5.5 1.0 5.7 1.7 3.6 2.1 3.2 1.3 2.3 1.7 5.4 1.8 3.9 2.0 2.5 1.4 4.9 2.2 4.9 1.8 5.5 1.5 6.2 1.9 3.5 1.5 5.6 1.4"/><path d="M370.2,294.0 l88.0,-88.0" stroke-dasharray="2.8 2.0 4.4 1.6 5.0 2.1 2.6 1.4 2.3 1.5 4.3 2.0 5.0 1.7 3.8 1.7 3.2 2.0 5.5 2.0 2.7 1.8 5.4 1.6 6.0 2.1 5.3 2.0 4.9 2.1 2.6 1.8 5.2 1.7 3.2 1.1 4.7 2.0 3.2 1.3 3.0 1.1 5.0 2.2 5.6 1.4"/><path d="M373.2,294.0 l88.0,-88.0" stroke-dasharray="5.1 1.1 5.8 1.4 2.0 1.8 2.6 1.3 2.3 1.5 4.5 2.0 2.2 2.0 2.5 1.3 4.8 1.4 3.5 1.7 3.0 2.0 2.9 2.0 5.6 1.6 2.1 1.9 2.1 1.6 3.9 1.1 4.8 1.9 4.6 1.5 4.3 1.7 3.0 2.0 6.5 2.0 6.3 1.4 6.4 1.1 4.2 1.2"/><path d="M376.2,294.0 l88.0,-88.0" stroke-dasharray="4.0 1.8 5.2 1.5 3.5 1.2 3.8 1.3 2.9 1.9 4.3 1.5 2.9 1.8 2.9 1.3 4.5 1.8 6.4 1.9 6.3 2.1 5.3 1.9 2.3 1.2 2.1 2.0 5.2 1.8 3.2 1.4 2.7 1.8 6.5 1.4 2.2 1.2 3.6 2.1 5.6 1.5 2.5 1.1 2.7 1.9 4.1 2.2"/><path d="M379.2,294.0 l88.0,-88.0" stroke-dasharray="6.1 2.0 4.1 2.0 2.6 1.1 4.5 1.6 2.9 1.3 2.1 2.1 5.2 2.1 6.4 1.5 5.3 1.5 5.7 2.0 2.6 1.0 3.0 1.7 3.7 1.0 5.7 1.9 4.1 1.1 6.0 1.6 2.3 1.4 4.8 2.1 4.2 1.8 2.9 1.3 6.1 1.5 2.5 1.7 2.6 1.2 4.1 1.7"/><path d="M382.2,294.0 l88.0,-88.0" stroke-dasharray="4.9 1.8 4.0 1.1 5.3 1.1 4.1 1.5 5.0 1.9 3.1 1.8 5.1 1.6 2.6 2.1 4.7 1.1 3.1 2.2 3.0 1.5 5.5 2.0 4.9 1.9 2.2 1.1 6.4 2.0 2.2 1.1 3.1 2.1 3.0 1.8 6.2 1.8 6.1 1.3 2.7 1.0 5.4 1.1 6.4 1.9"/><path d="M385.2,294.0 l88.0,-88.0" stroke-dasharray="2.8 2.0 2.7 1.6 2.5 1.9 6.0 2.1 2.0 2.0 4.5 2.0 4.3 1.7 4.7 2.0 2.3 1.1 4.5 1.3 3.8 1.0 5.4 1.0 5.7 2.0 4.1 1.1 4.9 1.2 3.9 1.1 6.4 1.7 3.6 1.1 5.3 2.0 5.8 1.1 3.7 1.4 5.4 1.2 4.7 2.2"/><path d="M388.2,294.0 l88.0,-88.0" stroke-dasharray="5.5 1.0 2.3 1.1 5.1 1.7 4.3 1.5 3.8 1.7 4.9 2.1 5.3 2.0 6.1 2.0 5.2 1.0 5.1 2.0 3.9 2.1 2.8 2.1 4.0 1.8 3.1 1.4 3.6 1.4 2.4 1.5 6.4 1.8 6.2 1.9 5.8 2.2 5.4 1.3 3.1 1.5 2.1 1.3 6.0 2.1"/><path d="M391.2,294.0 l88.0,-88.0" stroke-dasharray="3.5 1.9 5.5 2.1 5.6 1.6 2.5 2.0 3.4 1.8 3.7 1.6 6.3 1.2 4.4 1.8 4.4 2.1 3.8 2.1 5.1 2.2 2.4 1.3 3.3 2.1 2.1 1.3 5.2 2.2 2.8 1.5 5.1 1.8 5.4 1.9 3.1 1.3 2.1 1.8 2.9 1.3 6.3 1.8 4.7 1.8"/><path d="M394.2,294.0 l88.0,-88.0" stroke-dasharray="4.7 1.8 3.4 1.1 2.3 1.0 3.6 1.2 2.5 1.6 6.4 1.8 3.2 1.9 2.8 1.1 3.4 1.5 5.1 1.5 5.3 1.1 6.2 1.4 5.7 1.0 5.7 1.3 5.8 2.0 5.0 1.3 2.0 1.2 6.1 1.2 5.0 1.7 5.0 1.2 2.6 1.1 6.4 1.5 4.9 1.7"/><path d="M397.2,294.0 l88.0,-88.0" stroke-dasharray="3.0 1.1 2.1 2.0 2.6 2.2 3.6 1.9 2.6 1.9 3.1 1.4 4.4 1.1 3.1 2.0 3.3 1.5 5.4 1.3 2.9 1.3 3.7 1.4 4.9 1.6 5.9 1.1 5.0 2.0 3.1 1.0 4.0 1.1 4.1 1.9 2.4 1.1 4.2 1.2 3.0 1.5 2.5 1.1 3.6 1.6 6.2 1.7 2.3 1.3 5.3 1.7"/><path d="M400.2,294.0 l88.0,-88.0" stroke-dasharray="5.9 2.2 5.9 1.1 6.2 1.6 3.1 1.2 5.9 1.3 2.4 1.3 6.2 1.6 5.3 1.1 4.0 1.4 2.9 1.8 3.6 1.1 6.4 1.6 2.8 1.0 4.9 1.6 2.1 1.6 5.3 1.6 3.1 1.6 4.7 1.8 2.7 2.0 6.3 1.9 5.9 1.4 6.1 1.2"/><path d="M403.2,294.0 l88.0,-88.0" stroke-dasharray="3.0 1.7 6.1 1.1 3.0 1.0 4.0 1.2 2.9 1.9 4.6 2.1 3.8 1.8 2.1 2.1 3.0 1.6 4.3 2.1 4.2 2.2 4.8 1.3 5.8 1.2 6.5 1.5 3.0 2.2 3.4 1.5 3.5 1.8 2.1 1.4 2.7 2.0 2.0 1.7 3.2 1.5 4.5 1.9 2.6 1.3 2.5 2.2 2.7 1.2 4.3 1.7"/><path d="M406.2,294.0 l88.0,-88.0" stroke-dasharray="6.0 1.1 3.1 1.2 4.6 1.5 3.8 2.1 5.0 2.0 6.3 1.3 6.2 1.5 2.2 2.1 2.5 1.0 3.3 1.3 6.4 2.0 3.9 1.6 5.8 2.0 4.9 1.6 2.5 1.3 5.0 1.7 5.6 2.1 6.3 1.2 2.3 2.1 4.6 1.2 5.1 1.3 3.1 1.4 4.4 1.8"/><path d="M409.2,294.0 l88.0,-88.0" stroke-dasharray="2.3 1.9 4.8 1.6 5.0 2.0 2.0 1.6 5.1 1.9 4.9 1.2 6.3 1.9 3.0 1.5 6.3 1.2 3.8 2.2 6.1 1.3 5.3 1.4 5.0 1.9 2.6 1.3 3.0 1.3 2.2 1.2 3.8 1.5 2.4 1.7 6.2 1.7 3.6 1.8 4.0 1.2 4.2 1.0 5.0 1.2 3.7 2.2"/><path d="M412.2,294.0 l88.0,-88.0" stroke-dasharray="5.5 2.0 4.9 1.8 5.2 2.2 2.9 1.9 3.4 1.3 5.7 1.7 5.8 2.1 4.6 1.2 2.1 1.6 5.3 1.3 2.3 1.0 2.8 1.8 2.0 1.3 3.2 1.9 6.4 1.0 2.5 2.1 6.4 1.2 3.5 1.6 3.4 1.5 4.2 1.3 2.2 1.1 2.7 1.1 4.8 1.8 3.2 2.0 5.3 1.4"/><path d="M415.2,294.0 l88.0,-88.0" stroke-dasharray="4.2 1.2 6.2 1.7 2.2 1.2 5.1 1.5 5.2 1.3 5.6 2.0 2.4 1.7 2.9 1.8 5.6 1.9 3.0 1.1 5.0 1.7 2.6 1.2 4.6 1.1 4.9 1.3 3.2 1.5 4.4 1.9 2.1 1.9 3.0 1.3 4.9 1.8 4.8 2.1 2.9 1.4 5.0 1.3 2.7 1.3 5.5 2.0"/><path d="M418.2,294.0 l88.0,-88.0" stroke-dasharray="5.2 2.2 5.6 1.4 3.4 1.9 2.3 1.7 2.4 1.1 4.3 1.2 6.2 2.1 4.1 1.2 2.5 1.6 4.3 1.4 5.2 1.6 5.5 1.1 2.3 1.5 4.2 1.3 5.0 1.3 3.4 1.6 5.2 1.9 3.7 1.5 6.2 2.1 4.8 1.1 4.1 1.8 3.3 1.0 6.4 2.1"/><path d="M421.2,294.0 l88.0,-88.0" stroke-dasharray="2.6 1.6 4.8 1.4 2.3 1.9 5.5 1.5 2.4 1.5 2.4 2.2 2.2 1.3 5.5 1.2 2.5 1.1 2.7 1.6 5.7 1.2 2.8 1.9 3.9 1.4 2.6 1.3 6.4 1.1 3.2 1.9 6.0 2.1 4.1 2.1 4.7 1.3 4.1 1.9 5.3 1.2 2.9 2.1 2.5 2.0 3.5 1.3 3.1 1.6 6.5 1.2"/><path d="M424.2,294.0 l88.0,-88.0" stroke-dasharray="5.8 1.4 2.8 1.9 3.5 1.2 3.9 2.0 5.9 1.7 2.0 1.9 4.7 2.1 6.3 1.4 5.8 2.0 3.2 1.4 3.7 1.4 3.7 1.1 3.0 2.1 3.8 1.8 6.0 1.9 3.1 2.1 5.6 2.2 5.3 1.9 5.7 1.3 5.0 1.5 5.8 1.2 4.4 1.4"/><path d="M427.2,294.0 l88.0,-88.0" stroke-dasharray="5.7 1.4 5.8 2.0 6.0 1.2 6.2 1.9 5.0 1.8 2.2 2.0 4.5 1.5 3.5 1.9 5.5 2.0 3.0 1.4 3.1 1.1 3.5 1.0 5.6 1.3 2.3 1.1 5.3 1.2 4.1 1.5 5.6 2.1 3.4 1.8 6.0 1.6 6.0 1.9 3.4 2.0 4.6 1.1"/><path d="M430.2,294.0 l88.0,-88.0" stroke-dasharray="4.6 2.0 4.3 1.6 3.9 2.1 5.0 1.2 3.6 1.4 6.3 1.8 2.6 2.1 2.2 1.7 3.9 1.9 3.9 1.1 4.4 2.0 5.5 1.4 3.0 1.9 5.6 1.3 6.0 2.2 4.0 1.5 5.2 2.1 2.9 1.4 3.5 1.9 2.8 1.7 4.3 1.8 2.6 2.1 6.5 1.7"/><path d="M433.2,294.0 l88.0,-88.0" stroke-dasharray="5.6 1.2 6.1 1.7 5.4 2.0 3.6 2.1 2.9 1.0 4.3 2.1 6.1 2.1 4.3 2.1 4.5 1.2 4.8 2.0 3.9 1.7 3.2 1.3 3.9 1.6 4.1 1.1 2.0 1.4 5.2 1.9 3.1 1.3 4.3 1.2 4.7 2.1 2.9 1.7 5.2 1.9 5.2 1.9 3.2 2.0"/><path d="M436.2,294.0 l88.0,-88.0" stroke-dasharray="6.2 1.1 6.2 1.5 2.4 1.1 5.6 1.8 2.6 1.6 4.9 2.2 3.5 1.9 3.1 1.2 2.7 1.5 4.8 1.4 2.7 1.3 2.4 1.2 3.4 1.6 2.8 1.6 4.0 2.2 4.2 2.1 4.1 1.2 4.7 1.2 2.8 1.1 5.2 2.2 3.8 1.4 3.9 1.4 5.1 1.5 2.7 2.0 4.6 1.0"/></g>
<path d="M437.5,292.4 V233.8 H457.0 V292.4" fill="none" stroke="#111" stroke-width="0.9"/>
<rect x="515.2" y="133.0" width="21.7" height="160.0" fill="#000"/>
<clipPath id="cp4"><rect x="543.6" y="212.5" width="18.8" height="80.5"/></clipPath><rect x="542.4" y="211.3" width="21.2" height="81.7" fill="#000"/><g clip-path="url(#cp4)" stroke="#fff" stroke-width="1.12" fill="none" shape-rendering="crispEdges"><path d="M539.4,294.0 l-83.7,-83.7" stroke-dasharray="5.8 1.9 3.6 1.8 6.1 1.5 3.9 1.4 4.5 1.8 5.3 2.1 2.7 1.4 5.8 1.9 4.7 1.8 3.5 2.1 4.5 1.5 2.8 1.1 6.0 2.0 2.1 1.4 4.2 1.6 3.6 2.1 3.6 1.6 6.2 1.8 4.1 1.4 3.7 1.7 5.5 1.3"/><path d="M542.4,294.0 l-83.7,-83.7" stroke-dasharray="3.7 1.5 3.6 2.1 4.4 1.3 3.5 2.0 2.7 1.8 2.1 1.2 2.3 2.0 2.7 1.3 2.3 1.3 5.3 1.9 6.1 2.1 4.5 2.1 2.4 2.1 4.0 1.2 5.4 2.0 3.7 1.1 5.9 1.9 4.7 2.2 2.2 1.1 2.6 1.0 5.2 1.8 2.5 1.2 2.8 1.7 5.0 2.2"/><path d="M545.4,294.0 l-83.7,-83.7" stroke-dasharray="3.6 2.2 4.0 1.5 3.1 1.3 6.4 2.2 5.2 1.2 2.8 1.2 3.6 1.9 2.3 1.6 5.1 1.0 4.0 1.9 4.6 1.5 6.0 1.7 3.5 1.5 6.2 2.0 6.1 1.7 2.6 1.2 3.7 1.8 2.0 2.0 5.5 1.6 2.0 2.0 3.9 1.8 4.6 1.9"/><path d="M548.4,294.0 l-83.7,-83.7" stroke-dasharray="3.8 2.2 6.3 2.1 4.8 1.4 3.7 1.3 6.1 2.0 5.5 2.0 6.5 1.8 3.4 1.9 3.2 1.7 2.7 2.0 4.2 1.3 6.2 1.1 6.2 1.9 2.7 1.9 4.6 2.1 4.6 1.5 6.2 1.1 5.5 1.1 3.2 1.1 5.9 1.5"/><path d="M551.4,294.0 l-83.7,-83.7" stroke-dasharray="5.3 1.3 5.3 1.8 2.4 1.6 5.2 1.3 4.9 1.3 3.7 2.1 6.2 2.2 3.9 1.7 5.6 1.9 4.1 2.0 3.8 2.1 4.1 1.1 5.4 1.2 5.1 1.1 6.4 1.6 5.3 1.2 4.9 1.5 3.1 2.0 2.1 1.6 2.4 2.0 6.0 1.0"/><path d="M554.4,294.0 l-83.7,-83.7" stroke-dasharray="4.1 1.6 5.2 1.9 3.5 2.1 2.8 1.2 5.7 1.1 2.8 1.6 3.5 1.2 6.2 1.6 5.5 1.3 6.1 1.3 6.1 1.7 6.4 1.9 4.8 1.6 5.8 1.5 2.4 2.1 5.6 1.8 5.4 1.3 4.1 2.0 6.3 2.1 2.7 1.8"/><path d="M557.4,294.0 l-83.7,-83.7" stroke-dasharray="4.5 1.5 2.8 1.2 4.1 1.6 3.2 1.4 4.5 1.9 4.7 1.2 6.0 1.4 6.3 2.2 2.6 1.7 6.4 1.5 4.5 1.4 2.1 1.2 2.6 1.3 4.8 1.7 6.3 1.8 3.6 2.1 4.9 1.7 5.9 1.8 3.6 1.7 3.4 2.2 3.1 2.2 2.3 1.0"/><path d="M560.4,294.0 l-83.7,-83.7" stroke-dasharray="4.5 1.2 4.3 1.1 5.8 1.8 5.1 2.1 6.5 1.8 5.2 1.0 2.2 1.5 6.4 1.4 4.6 1.0 3.9 2.1 4.7 2.0 2.1 1.2 2.8 2.0 2.5 2.1 3.2 2.1 4.3 1.4 6.3 1.5 5.1 1.1 5.7 2.2 2.5 1.9 3.2 1.2 3.6 1.8"/><path d="M563.4,294.0 l-83.7,-83.7" stroke-dasharray="6.3 2.2 6.5 1.7 4.9 1.2 5.3 1.7 3.6 2.1 3.1 1.2 2.7 1.2 4.6 2.0 2.7 1.6 4.6 1.7 3.9 1.7 2.1 1.1 3.9 1.3 5.4 1.3 5.7 1.3 2.4 1.6 3.7 1.4 5.4 1.3 5.0 2.0 4.0 1.6 6.2 1.7 2.8 1.1"/><path d="M566.4,294.0 l-83.7,-83.7" stroke-dasharray="2.4 1.4 2.4 1.8 3.9 1.4 4.3 2.1 3.1 1.2 3.4 1.4 6.1 1.8 3.9 1.2 2.2 1.1 5.8 1.8 2.7 1.8 2.3 1.6 3.5 1.1 5.3 1.9 4.3 1.2 5.0 1.5 5.0 1.1 6.1 1.0 3.0 1.5 2.9 1.1 5.1 2.2 3.5 1.3 5.0 1.3 3.8 1.8"/><path d="M569.4,294.0 l-83.7,-83.7" stroke-dasharray="3.9 1.2 2.3 1.7 6.5 2.1 2.4 1.6 4.2 1.2 5.0 1.6 5.6 1.4 6.2 2.0 4.1 1.2 4.2 1.2 5.1 1.8 4.6 2.2 2.2 1.9 5.6 1.1 3.4 1.1 4.6 1.9 3.6 1.8 3.7 1.9 3.2 2.2 4.0 1.0 2.4 1.9 5.9 1.8"/><path d="M572.4,294.0 l-83.7,-83.7" stroke-dasharray="2.7 2.0 5.2 1.1 3.7 1.8 2.0 1.1 3.6 2.0 6.5 1.4 6.1 1.9 5.9 1.7 6.4 1.8 6.3 1.7 2.9 1.6 4.2 1.4 3.7 1.6 4.6 1.3 3.2 1.6 4.3 1.5 5.0 1.2 4.4 1.3 5.5 1.8 5.5 1.6 3.1 2.1"/><path d="M575.4,294.0 l-83.7,-83.7" stroke-dasharray="4.3 1.5 3.3 1.5 5.2 2.0 4.2 1.9 3.0 1.5 3.6 1.4 3.6 1.9 5.3 1.2 3.1 1.9 4.9 1.8 4.9 1.8 3.2 1.1 3.6 1.0 6.3 1.6 5.0 2.2 5.6 1.3 3.5 1.1 5.6 1.9 4.2 1.4 3.2 1.6 5.2 2.1 5.8 2.0"/><path d="M578.4,294.0 l-83.7,-83.7" stroke-dasharray="4.0 1.5 3.4 2.2 2.8 1.2 3.3 2.1 5.8 1.4 5.8 2.1 3.9 1.2 5.5 1.4 2.5 2.1 4.0 1.5 4.7 1.3 2.1 1.5 3.7 1.0 3.7 1.9 3.5 1.8 4.8 1.2 2.1 1.8 4.7 1.4 2.9 2.0 6.1 1.3 4.6 1.7 3.4 1.0 3.5 1.8"/><path d="M581.4,294.0 l-83.7,-83.7" stroke-dasharray="4.7 1.6 2.6 1.3 3.4 1.5 3.6 2.1 2.5 2.2 3.1 2.0 3.1 1.7 3.7 1.0 5.6 2.0 3.2 1.9 4.2 2.2 2.2 1.5 3.0 1.7 5.5 2.0 4.5 1.5 5.6 1.1 3.2 1.9 4.0 2.2 2.4 1.6 3.0 1.0 2.4 1.1 3.7 1.5 4.3 1.3 5.2 1.6"/><path d="M584.4,294.0 l-83.7,-83.7" stroke-dasharray="6.4 1.2 4.3 1.6 3.7 2.0 2.9 2.1 3.6 1.4 4.8 1.7 3.3 1.1 6.3 1.4 2.5 1.8 4.4 1.4 3.5 2.0 3.5 1.5 6.3 1.4 3.8 1.2 5.0 1.8 4.0 1.5 3.0 1.9 4.1 2.0 3.7 1.9 2.1 1.3 6.3 1.8 5.0 1.6"/><path d="M587.4,294.0 l-83.7,-83.7" stroke-dasharray="4.1 1.2 2.8 1.8 5.1 1.3 4.9 1.2 4.8 1.2 4.3 1.4 4.5 1.2 4.2 1.7 2.6 1.4 5.1 1.7 4.8 1.9 4.6 1.3 4.0 2.0 4.6 1.9 3.6 1.5 6.4 2.0 4.9 1.1 4.8 1.0 6.2 2.2 5.3 1.3 5.8 1.2"/><path d="M590.4,294.0 l-83.7,-83.7" stroke-dasharray="5.7 1.6 2.1 2.1 4.0 2.0 5.1 1.6 5.9 1.2 6.0 1.4 2.1 1.4 2.3 1.1 4.8 1.1 2.7 1.4 3.3 2.1 6.1 2.0 6.5 1.5 5.6 1.3 6.2 2.0 5.3 1.3 2.4 2.1 4.5 1.7 5.9 1.2 5.1 1.6 5.5 1.5"/><path d="M593.4,294.0 l-83.7,-83.7" stroke-dasharray="2.9 2.1 3.3 1.9 5.7 1.3 5.1 1.5 3.0 1.3 6.3 1.4 4.3 1.6 2.1 1.9 5.4 2.1 3.6 1.3 3.6 1.9 5.0 1.5 4.4 1.2 6.1 1.6 4.3 1.9 2.9 1.9 3.6 2.0 2.4 1.3 4.9 1.6 3.7 1.7 3.0 1.5 2.0 2.0 3.1 2.0"/><path d="M596.4,294.0 l-83.7,-83.7" stroke-dasharray="4.5 1.7 4.8 1.2 5.5 1.4 5.9 1.9 5.1 2.0 4.0 1.8 6.3 1.2 2.5 1.5 4.3 1.2 3.0 2.0 3.7 1.2 2.8 1.7 2.9 1.6 4.4 1.5 4.3 2.0 2.1 2.1 2.9 1.0 5.5 1.7 4.4 1.3 5.5 1.4 5.3 1.3 4.6 1.8"/><path d="M599.4,294.0 l-83.7,-83.7" stroke-dasharray="3.7 1.6 2.3 1.8 5.1 1.2 4.5 1.9 2.5 2.0 5.9 1.1 3.1 1.1 3.1 1.1 4.2 1.3 3.4 1.6 3.7 1.9 5.3 1.1 3.0 1.0 3.5 1.1 5.1 1.9 6.5 1.3 2.2 1.9 3.9 2.1 3.8 1.4 2.3 2.1 4.3 1.5 4.0 1.9 5.7 1.6 2.8 1.5"/><path d="M602.4,294.0 l-83.7,-83.7" stroke-dasharray="6.0 1.5 5.0 1.7 4.1 1.7 3.1 1.7 5.9 1.1 3.7 2.1 6.4 1.0 4.8 1.8 5.8 1.6 2.6 1.4 5.2 1.9 2.9 1.8 5.0 1.8 2.1 1.5 3.5 1.7 3.5 1.2 5.0 1.3 5.6 1.4 4.5 2.0 2.5 1.9 2.3 2.1 2.1 1.9"/><path d="M605.4,294.0 l-83.7,-83.7" stroke-dasharray="3.7 1.2 3.8 1.6 3.9 1.1 4.4 1.4 6.4 1.5 4.0 1.3 6.4 1.4 4.9 2.0 3.8 1.9 3.3 1.1 2.2 1.5 5.9 1.2 4.0 1.9 3.2 1.2 4.3 1.5 6.2 2.1 3.1 1.7 3.9 1.0 4.0 2.1 3.4 1.7 5.2 1.1 6.2 1.1"/><path d="M608.4,294.0 l-83.7,-83.7" stroke-dasharray="3.4 1.9 2.1 1.5 2.6 1.6 2.1 1.2 3.0 1.1 2.4 1.2 4.3 1.2 5.7 1.5 3.1 1.3 5.8 1.1 5.3 1.1 6.3 1.5 4.7 2.0 2.5 1.1 5.1 1.7 5.2 1.3 4.2 1.2 4.0 1.3 4.6 1.4 3.2 1.8 2.4 2.0 4.2 1.3 2.5 1.6 4.3 1.9"/><path d="M611.4,294.0 l-83.7,-83.7" stroke-dasharray="3.7 1.5 6.0 1.3 6.4 2.1 6.5 2.1 3.2 2.0 4.8 1.2 6.5 1.8 5.6 1.7 2.4 2.0 2.8 1.3 4.8 1.2 4.1 1.9 2.4 1.8 2.5 1.6 4.9 1.8 2.2 1.2 6.3 1.5 3.9 1.4 5.1 1.9 4.9 1.5 4.6 1.6"/><path d="M614.4,294.0 l-83.7,-83.7" stroke-dasharray="2.8 2.1 6.3 1.9 6.5 1.6 5.8 1.3 5.3 1.9 6.2 2.0 6.0 1.3 5.5 1.6 3.4 1.4 5.6 2.0 5.8 1.8 2.8 1.2 4.6 1.3 3.5 1.1 2.7 1.9 3.0 2.0 3.5 2.0 3.4 1.3 3.8 1.0 4.0 1.5 2.1 2.0 3.7 1.0"/><path d="M617.4,294.0 l-83.7,-83.7" stroke-dasharray="6.3 1.3 3.1 1.0 2.4 1.9 4.6 1.6 3.1 1.3 6.4 1.4 6.5 2.1 2.6 2.0 2.1 1.9 5.6 1.8 4.5 2.0 2.7 1.6 3.2 1.5 2.9 1.8 4.6 1.9 4.8 1.7 6.1 2.0 4.6 1.4 6.2 1.4 2.5 1.4 5.2 2.1 4.9 1.8"/><path d="M620.4,294.0 l-83.7,-83.7" stroke-dasharray="6.2 1.9 4.0 1.6 5.4 1.4 2.5 1.7 5.6 1.3 5.1 2.1 2.6 1.2 4.2 1.4 6.3 2.2 4.0 2.0 4.8 1.2 6.4 1.2 2.3 1.5 2.1 1.6 3.9 2.1 3.9 2.0 5.5 1.7 3.1 1.4 4.2 1.5 4.9 1.6 3.5 1.7 6.5 1.2"/><path d="M623.4,294.0 l-83.7,-83.7" stroke-dasharray="3.5 1.0 2.4 1.1 3.9 2.0 5.1 2.2 5.8 1.7 4.6 1.0 3.7 1.3 4.8 1.1 4.4 1.5 4.2 1.5 2.5 1.9 5.6 1.7 2.5 1.7 5.9 2.2 5.4 1.1 6.0 1.8 3.2 2.1 5.7 2.1 3.1 1.7 3.7 1.4 5.4 1.7 3.5 1.7"/><path d="M626.4,294.0 l-83.7,-83.7" stroke-dasharray="6.2 1.7 6.1 1.7 6.5 1.0 4.1 1.7 5.3 2.2 4.8 1.6 4.9 1.6 5.2 2.1 2.1 1.4 5.9 1.1 5.6 1.0 4.9 2.0 3.1 1.5 3.0 1.8 4.4 1.7 3.5 1.7 6.3 1.9 6.3 1.3 4.3 1.5 3.6 2.0"/><path d="M629.4,294.0 l-83.7,-83.7" stroke-dasharray="2.8 1.7 5.5 2.1 2.1 1.3 4.2 2.1 2.7 2.0 3.8 1.7 6.2 1.1 3.5 1.2 2.6 1.4 5.2 1.7 2.5 2.0 4.3 1.2 5.7 2.0 3.0 2.1 5.6 1.3 2.0 2.0 5.7 1.1 5.4 1.9 4.9 2.0 6.4 1.4 5.8 2.1 3.4 1.8"/><path d="M632.4,294.0 l-83.7,-83.7" stroke-dasharray="5.1 2.0 4.6 1.3 3.1 1.7 2.6 2.0 6.0 1.3 5.1 1.8 2.5 1.9 5.4 1.4 2.4 1.3 5.5 1.6 5.7 1.2 2.5 1.4 6.0 1.2 2.3 1.9 2.4 1.8 2.4 1.3 5.0 2.0 3.8 1.5 2.1 1.4 3.1 1.9 5.2 1.9 4.4 1.8 2.6 1.5"/><path d="M635.4,294.0 l-83.7,-83.7" stroke-dasharray="3.3 1.3 5.3 1.3 3.5 1.3 5.9 1.8 4.2 1.5 6.1 2.1 4.0 1.7 5.9 1.3 3.2 1.1 4.3 1.9 2.7 1.5 6.5 1.6 3.7 2.0 6.0 1.5 2.6 1.8 5.3 2.1 5.0 1.4 4.3 1.3 4.0 1.6 6.1 2.1 6.2 1.6"/><path d="M638.4,294.0 l-83.7,-83.7" stroke-dasharray="6.3 1.2 6.1 1.8 5.9 1.5 6.5 1.0 5.8 2.0 3.7 2.0 3.0 1.9 4.1 1.5 2.9 2.0 5.3 1.1 6.4 1.3 3.7 1.5 4.6 2.1 6.3 1.8 3.6 1.1 2.3 1.6 4.6 1.5 6.4 1.5 3.6 1.5 2.8 2.1 4.7 1.7"/><path d="M641.4,294.0 l-83.7,-83.7" stroke-dasharray="3.9 1.3 3.4 1.6 4.0 2.2 4.5 1.2 2.2 1.2 3.6 1.9 6.0 1.3 5.5 1.5 4.4 1.6 2.2 1.1 5.0 1.8 3.7 2.1 5.7 1.4 2.3 1.7 4.9 1.3 2.2 1.6 2.2 1.9 4.8 1.3 4.0 1.3 2.8 1.2 5.7 1.5 5.2 1.4 5.6 1.7"/><path d="M644.4,294.0 l-83.7,-83.7" stroke-dasharray="4.9 1.5 4.5 1.2 6.4 1.8 4.4 1.8 2.5 1.4 3.0 2.0 2.1 1.5 5.9 1.9 5.2 1.4 3.0 1.8 3.3 1.9 3.6 1.9 4.6 2.0 6.4 1.5 6.4 1.0 5.9 1.0 4.5 1.5 5.5 1.4 2.9 1.9 4.5 1.9 4.2 1.0"/><path d="M647.4,294.0 l-83.7,-83.7" stroke-dasharray="5.5 1.3 4.1 1.0 3.2 1.8 5.4 1.8 4.0 1.9 5.0 1.2 4.4 1.7 5.3 1.2 3.4 1.4 2.4 1.4 5.3 1.7 2.8 1.9 2.5 1.9 2.7 1.1 3.1 1.6 3.2 2.1 6.2 1.3 5.4 1.8 4.5 1.3 6.3 2.1 2.1 1.4 3.4 1.2 3.9 2.1"/></g>
<path d="M567.4,292.4 V235.8 H588.1 V292.4" fill="none" stroke="#111" stroke-width="0.9"/>
</g>
<g stroke="#000" fill="none">
<line x1="89" y1="293.1" x2="619.3" y2="292.1" stroke-width="1.6"/>
<line x1="229.7" y1="292" x2="229.7" y2="297.3" stroke-width="1.1"/>
<line x1="359.5" y1="292" x2="359.5" y2="297.3" stroke-width="1.1"/>
<line x1="489.5" y1="292" x2="489.5" y2="297.3" stroke-width="1.1"/>
<line x1="618.7" y1="292" x2="618.7" y2="297.3" stroke-width="1.1"/>
</g>
<text class="t" x="86.4" y="299.1" text-anchor="end">0</text>
<text class="t" x="86.7" y="264.9" text-anchor="end">2</text>
<text class="t" x="87.0" y="230.8" text-anchor="end">4</text>
<text class="t" x="87.3" y="196.6" text-anchor="end">6</text>
<text class="t" x="87.6" y="162.5" text-anchor="end">8</text>
<text class="t" x="87.9" y="128.3" text-anchor="end">10</text>
<text class="t" x="88.2" y="94.1" text-anchor="end">12</text>
<text class="t" x="88.6" y="60.0" text-anchor="end">14</text>
<text class="t" x="88.9" y="25.8" text-anchor="end">16</text>
<text class="c" x="54.6" y="104.5" text-anchor="middle" style="font-size:16.5px;stroke-width:.4px">年</text>
<text class="c" x="54.6" y="133.8" text-anchor="middle" style="font-size:16.5px;stroke-width:.4px">均</text>
<text class="c" x="54.6" y="162.3" text-anchor="middle" style="font-size:16.5px;stroke-width:.4px">增</text>
<text class="c" x="54.6" y="191.0" text-anchor="middle" style="font-size:16.5px;stroke-width:.4px">长</text>
<text class="c" x="54.6" y="220.3" text-anchor="middle" style="font-size:16.5px;stroke-width:.4px">率</text>
<text class="n" x="141.2" y="30.8" text-anchor="middle">14.9</text>
<text class="n" x="163.0" y="186.0" text-anchor="middle">5.8</text>
<text class="n" x="188.6" y="255.8" text-anchor="middle">1.7</text>
<text class="n" x="268.2" y="197.0" text-anchor="middle">5.1</text>
<text class="n" x="292.5" y="245.0" text-anchor="middle">2.2</text>
<text class="n" x="318.3" y="206.7" text-anchor="middle">4.5</text>
<text class="n" x="398.0" y="145.8" text-anchor="middle">8.0</text>
<text class="n" x="422.8" y="199.2" text-anchor="middle">4.8</text>
<text class="n" x="448.0" y="226.3" text-anchor="middle">3.3</text>
<text class="n" x="527.9" y="128.0" text-anchor="middle">9.1</text>
<text class="n" x="555.4" y="204.2" text-anchor="middle">4.5</text>
<text class="n" x="578.5" y="230.0" text-anchor="middle">3.1</text>
<text class="n" x="165.8" y="313.3" text-anchor="middle">1928—1940</text>
<text class="n" x="296.0" y="313.3" text-anchor="middle">1940—1950</text>
<text class="n" x="425.0" y="313.3" text-anchor="middle">1950—1975</text>
<text class="n" x="556.7" y="313.3" text-anchor="middle">1928—1975</text>
<rect x="188.8" y="335" width="11.8" height="12.4" fill="#000"/>
<text class="c" x="209.5" y="350.2" letter-spacing="2">苏联</text>
<text class="c" x="250.3" y="349.4">NMP</text>
<clipPath id="cp5"><rect x="297.5" y="337.2" width="9.3" height="10.4"/></clipPath><rect x="296.3" y="336.0" width="11.7" height="11.6" fill="#000"/><g clip-path="url(#cp5)" stroke="#fff" stroke-width="1.0" fill="none" shape-rendering="crispEdges"><path d="M293.3,348.6 l-13.6,-13.6" stroke-dasharray="2.1 2.0 3.4 1.0 6.0 1.3 3.0 1.1 3.7 1.1 2.8 1.3"/><path d="M296.3,348.6 l-13.6,-13.6" stroke-dasharray="4.6 1.5 3.4 1.6 5.5 1.9 3.5 2.1 5.6 1.7"/><path d="M299.3,348.6 l-13.6,-13.6" stroke-dasharray="4.1 1.4 2.6 2.1 4.7 1.1 6.2 2.1 2.2 1.8"/><path d="M302.3,348.6 l-13.6,-13.6" stroke-dasharray="3.1 1.6 5.8 1.4 4.2 1.8 2.9 1.8 3.9 2.2"/><path d="M305.3,348.6 l-13.6,-13.6" stroke-dasharray="2.8 1.9 2.2 1.3 2.5 1.2 4.4 1.2 5.6 1.1 4.8 2.0"/><path d="M308.3,348.6 l-13.6,-13.6" stroke-dasharray="2.6 1.3 5.4 1.6 6.2 1.4 3.8 2.1 3.5 2.2"/><path d="M311.3,348.6 l-13.6,-13.6" stroke-dasharray="6.0 1.2 4.5 2.1 2.5 2.0 5.5 1.9"/><path d="M314.3,348.6 l-13.6,-13.6" stroke-dasharray="4.7 1.1 6.3 1.1 5.5 1.9 3.4 1.8"/><path d="M317.3,348.6 l-13.6,-13.6" stroke-dasharray="3.8 1.9 2.2 2.1 3.7 2.0 4.1 2.0 3.4 1.7"/><path d="M320.3,348.6 l-13.6,-13.6" stroke-dasharray="2.1 1.6 2.4 2.0 5.0 1.5 6.4 2.1 6.3 1.1"/></g>
<text class="c" x="312.3" y="350.2" letter-spacing="2">苏联</text>
<text class="c" x="354" y="349.4" textLength="33" lengthAdjust="spacingAndGlyphs">GNP</text>
<path d="M402.5,337.2 H395.6 V346.6 H406.3" fill="none" stroke="#000" stroke-width="1.1"/>
<text class="c" x="411" y="350.2" letter-spacing="2.4">美国</text>
<text class="c" x="454" y="349.4" textLength="32.5" lengthAdjust="spacingAndGlyphs">GNP</text>
<text class="c" x="486.3" y="343.2" style="font-size:11px">*</text>
<text class="cap" x="151" y="378.7">图</text>
<text class="capn" x="171.4" y="378.3" textLength="35.5" lengthAdjust="spacingAndGlyphs">3—1</text>
<text class="cap" x="226.5" y="378.7" letter-spacing="1.9">苏联和美国经济增长</text>
<text class="capn" x="396.5" y="378.3">(1928—1975</text>
<text class="cap" x="489" y="378.7">年</text>
<text class="capn" x="506.3" y="378.3">)</text>
<g>
<text class="k" x="43.50" y="406.90" letter-spacing="1.50">资料</text>
<text class="k" x="78.50" y="406.90" letter-spacing="1.50">来源</text>
<text class="s" x="113.10" y="406.30">:</text>
<text class="s" transform="translate(128.75 406.30) scale(0.990 1)">Bergson</text>
<text class="s" transform="translate(187.69 406.30) scale(1.065 1)">1961</text>
<text class="s" x="221.25" y="406.30">:</text>
<text class="s" transform="translate(233.88 406.30) scale(1.125 1)">180</text>
<text class="p" x="263.25" y="406.30">、</text>
<text class="s" transform="translate(278.75 406.30) scale(1.107 1)">210</text>
<text class="s" transform="translate(322.00 406.30) scale(1.089 1)">Jiont</text>
<text class="s" transform="translate(361.25 406.30) scale(1.059 1)">Economic</text>
<text class="s" transform="translate(431.25 406.30) scale(1.077 1)">Committee</text>
<text class="s" transform="translate(509.45 406.30) scale(1.054 1)">1982</text>
<text class="s" x="542.25" y="406.30">;</text>
<text class="s" transform="translate(557.50 406.30) scale(1.107 1)">25</text>
<text class="p" x="577.75" y="406.30">、</text>
<text class="s" transform="translate(590.10 406.30) scale(1.154 1)">52</text>
<text class="s" x="613.88" y="405.30">~</text>
<text class="s" transform="translate(627.56 406.30) scale(1.192 1)">53</text>
<text class="s" x="647.62" y="406.30">:</text>
<text class="s" transform="translate(10.22 426.80) scale(1.027 1)">1900</text>
<text class="s" x="42.00" y="426.80">;</text>
<text class="s" transform="translate(56.25 426.80) scale(1.071 1)">46</text>
<text class="p" x="74.88" y="426.80">、</text>
<text class="s" transform="translate(88.31 426.80) scale(1.192 1)">55</text>
<text class="s" transform="translate(107.00 426.80) scale(1.156 1)">~</text>
<text class="s" transform="translate(118.31 426.80) scale(1.192 1)">56</text>
<text class="p" x="136.75" y="426.80">。</text>
<text class="s" transform="translate(155.14 426.80) scale(1.111 1)">1961</text>
<text class="s" x="189.25" y="426.80">:</text>
<text class="s" transform="translate(206.35 426.80) scale(1.150 1)">139</text>
<text class="s" x="232.40" y="426.80">.</text>
<text class="i" transform="translate(251.25 426.80) scale(0.991 1)">Economic</text>
<text class="i" transform="translate(318.75 426.80) scale(0.906 1)">Report</text>
<text class="i" transform="translate(366.25 426.80) scale(1.154 1)">of</text>
<text class="i" transform="translate(387.00 426.80) scale(1.000 1)">the</text>
<text class="i" transform="translate(416.25 426.80) scale(1.058 1)">President</text>
<text class="s" transform="translate(484.92 426.80) scale(1.080 1)">1985</text>
<text class="s" x="519.50" y="426.80">:</text>
<text class="s" transform="translate(535.00 426.80) scale(1.023 1)">234</text>
<text class="s" x="559.75" y="426.80">;</text>
<text class="s" transform="translate(573.97 426.80) scale(1.027 1)">1988</text>
<text class="s" x="607.00" y="426.80">:</text>
<text class="s" transform="translate(622.00 426.80) scale(1.071 1)">250</text>
<text class="s" x="646.50" y="426.80">.</text>
<text class="s" transform="translate(10.50 447.00) scale(1.153 1)">US</text>
<text class="s" transform="translate(37.00 447.00) scale(1.083 1)">Bureau</text>
<text class="s" transform="translate(88.00 447.00) scale(1.250 1)">of</text>
<text class="s" transform="translate(108.00 447.00) scale(1.000 1)">the</text>
<text class="s" transform="translate(130.00 447.00) scale(1.083 1)">Census.</text>
<text class="s" x="46.00" y="469.80">*</text>
<text class="s" transform="translate(75.00 466.60) scale(1.129 1)">NMP</text>
<text class="k" x="117.50" y="467.20" letter-spacing="0.83">为物质生产净值</text>
<text class="s" x="229.75" y="466.60">;</text>
<text class="s" transform="translate(245.50 466.60) scale(1.034 1)">GNP</text>
<text class="k" x="282.50" y="467.20" letter-spacing="1.75">为国民</text>
<text class="k" x="332.50" y="467.20" letter-spacing="-0.50">生产</text>
<text class="k" x="364.00" y="467.20" letter-spacing="1.50">总值</text>
<text class="p" x="398.25" y="466.60">。</text>
</g>
</svg></body></html>
